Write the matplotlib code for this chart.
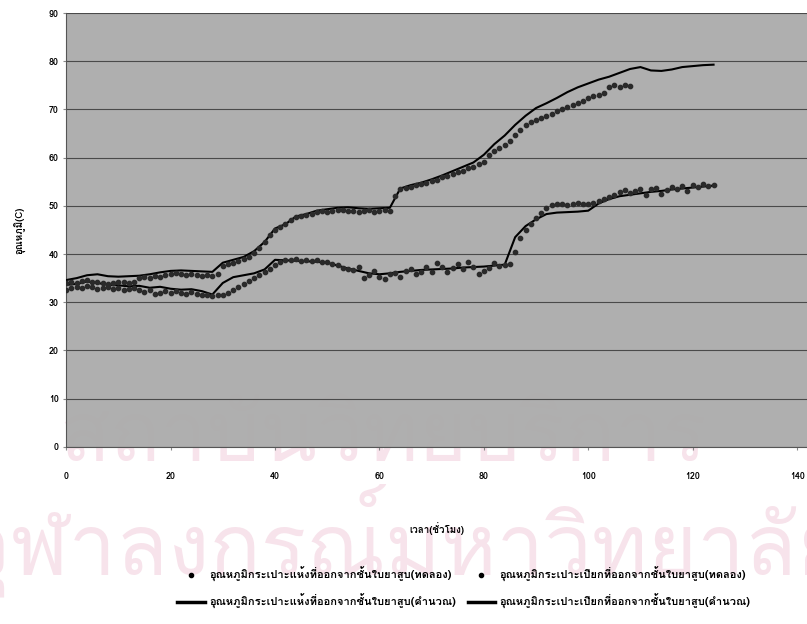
import matplotlib
matplotlib.use('Agg')
import numpy as np
import matplotlib.pyplot as plt
from matplotlib import font_manager as fm
from matplotlib.ft2font import FT2Font
from matplotlib.lines import Line2D

# look for any installed font that has Thai glyphs
thai_font = None
for f in fm.fontManager.ttflist:
    try:
        if FT2Font(f.fname).get_char_index(0x0E01):
            thai_font = f.name
            break
    except Exception:
        pass
families = ([thai_font] if thai_font else []) + ['DejaVu Sans']
plt.rcParams['font.family'] = families

# calculated curves (every 2 h)
t_calc = np.arange(0, 125, 2)
dry_calc = [34.6, 35.0, 35.6, 35.8, 35.4, 35.3, 35.4, 35.5, 35.8, 36.2,
            36.5, 36.6, 36.5, 36.4, 36.3, 38.2, 38.8, 39.4, 40.6, 42.5,
            45.3, 46.2, 47.8, 48.3, 49.0, 49.3, 49.6, 49.7, 49.5, 49.4,
            49.5, 49.6, 53.6, 54.3, 54.8, 55.5, 56.3, 57.2, 58.1, 59.0,
            60.6, 62.8, 64.6, 66.8, 68.7, 70.3, 71.3, 72.4, 73.6, 74.6,
            75.4, 76.2, 76.8, 77.6, 78.4, 78.8, 78.1, 78.0, 78.3, 78.8,
            79.0, 79.2, 79.3]
wet_calc = [33.6, 33.8, 34.3, 34.0, 33.6, 33.5, 33.3, 33.4, 33.0, 33.2,
            32.8, 32.6, 32.7, 32.3, 31.6, 34.0, 35.2, 35.6, 36.0, 36.8,
            38.8, 38.7, 38.6, 38.5, 38.4, 38.2, 37.6, 37.0, 36.5, 36.0,
            35.8, 36.0, 36.3, 36.5, 36.7, 36.8, 36.9, 37.0, 37.2, 37.3,
            37.4, 37.6, 37.8, 43.5, 45.8, 47.2, 48.3, 48.6, 48.7, 48.8,
            49.0, 50.5, 51.4, 52.0, 52.3, 52.6, 52.9, 53.1, 53.4, 53.6,
            53.8, 54.0, 54.2]

# measured points (every 1 h)
t_dry = np.arange(0, 109)
dry_exp = [33.9, 34.2, 34.0, 34.4, 34.6, 34.3, 34.1, 34.0, 33.8, 34.0,
           34.2, 34.1, 33.9, 34.3, 35.0, 35.3, 35.1, 35.4, 35.2, 35.6,
           35.9, 36.0, 35.8, 35.6, 35.9, 35.7, 35.5, 35.6, 35.4, 35.8,
           37.6, 37.9, 38.2, 38.6, 39.0, 39.4, 40.2, 41.3, 42.6, 44.0,
           45.0, 45.6, 46.3, 47.0, 47.6, 47.9, 48.0, 48.4, 48.7, 48.9,
           48.8, 49.0, 49.2, 49.1, 48.9, 49.0, 48.8, 48.9, 49.1, 48.7,
           48.9, 49.2, 49.0, 52.0, 53.4, 53.8, 54.0, 54.3, 54.6, 54.8,
           55.2, 55.4, 55.9, 56.2, 56.6, 57.0, 57.3, 57.8, 58.1, 58.6,
           59.2, 60.5, 61.3, 62.0, 62.6, 63.4, 64.6, 65.8, 66.7, 67.4,
           67.9, 68.3, 68.7, 69.1, 69.6, 70.1, 70.6, 71.0, 71.4, 71.8,
           72.3, 72.7, 73.1, 73.5, 74.6, 75.0, 74.7, 75.1, 74.8]
t_wet = np.arange(0, 125)
wet_exp = [32.6, 32.9, 33.2, 33.0, 33.4, 33.1, 32.8, 32.9, 33.2, 32.7,
           32.9, 32.6, 32.8, 33.0, 32.5, 32.2, 32.6, 31.8, 32.0, 32.4,
           31.9, 32.3, 32.0, 31.7, 32.1, 31.8, 31.6, 31.5, 31.3, 31.5,
           31.6, 32.0, 32.6, 33.2, 33.8, 34.4, 35.0, 35.6, 36.2, 36.9,
           37.8, 38.4, 38.8, 38.7, 38.9, 38.6, 38.8, 38.5, 38.7, 38.4,
           38.3, 38.0, 37.8, 37.2, 36.9, 36.6, 37.4, 35.0, 35.6, 36.4,
           35.3, 34.8, 35.9, 36.0, 35.2, 36.4, 36.8, 35.9, 36.3, 37.4,
           36.2, 38.2, 37.3, 36.3, 37.1, 37.9, 36.8, 38.3, 37.4, 35.8,
           36.5, 37.0, 38.1, 37.5, 37.8, 38.0, 40.4, 43.4, 45.0, 46.3,
           47.4, 48.6, 49.6, 50.1, 50.3, 50.4, 50.2, 50.3, 50.5, 50.3,
           50.4, 50.6, 51.0, 51.4, 51.8, 52.2, 52.9, 53.3, 52.6, 53.0,
           53.4, 52.2, 53.5, 53.8, 52.4, 53.3, 53.9, 53.6, 54.1, 53.0,
           54.3, 54.0, 54.5, 54.2, 54.4]

labels = ['อุณหภูมิกระเปาะแห้งที่ออกจากชั้นใบยาสูบ(ทดลอง)',
          'อุณหภูมิกระเปาะเปียกที่ออกจากชั้นใบยาสูบ(ทดลอง)',
          'อุณหภูมิกระเปาะแห้งที่ออกจากชั้นใบยาสูบ(คำนวณ)',
          'อุณหภูมิกระเปาะเปียกที่ออกจากชั้นใบยาสูบ(คำนวณ)']
xlabel = 'เวลา(ชั่วโมง)'
ylabel = 'อุณหภูมิ(C)'

fig = plt.figure(figsize=(8.07, 6.24), dpi=100)

# faint watermark, drawn before the axes so labels stay on top
wm = '#f7e3eb'
fig.text(0.475, 0.295, 'สถาบันวิทยบริการ', fontsize=60, color=wm,
         ha='center', va='center', zorder=-5)
fig.text(0.5, 0.135, 'จุฬาลงกรณ์มหาวิทยาลัย', fontsize=61, color=wm,
         ha='center', va='center', zorder=-5)

ax = fig.add_axes([0.082, 0.284, 0.918, 0.695])
ax.set_facecolor('#acacac')
ax.patch.set_alpha(0.96)
ax.set_xlim(0, 141.9)
ax.set_ylim(0, 90)
ax.set_xticks(range(0, 141, 20))
ax.set_yticks(range(0, 91, 10))
ax.grid(axis='y', color='#4a4a4a', lw=0.8)
ax.set_axisbelow(True)
for s in ['top', 'right']:
    ax.spines[s].set_visible(False)
ax.spines['left'].set_color('#555555')
ax.spines['bottom'].set_color('#555555')
ax.tick_params(labelsize=6.5, length=2, color='#888888')
ax.tick_params(axis='x', pad=16)
for lb in ax.get_xticklabels() + ax.get_yticklabels():
    lb.set_fontweight('bold')

ax.plot(t_calc, dry_calc, color='black', lw=1.5, zorder=3)
ax.plot(t_calc, wet_calc, color='black', lw=1.5, zorder=3)
ax.plot(t_dry, dry_exp, 'o', color='#2a2a2a', ms=3.1, zorder=4)
ax.plot(t_wet, wet_exp, 'o', color='#2a2a2a', ms=3.1, zorder=4)

ax.set_ylabel(ylabel, fontsize=7, fontweight='bold', labelpad=16)
ax.set_xlabel(xlabel, fontsize=7, fontweight='bold', labelpad=30)

handles = [Line2D([], [], ls='none', marker='o', color='black', ms=3),
           Line2D([], [], color='black', lw=2.5),
           Line2D([], [], ls='none', marker='o', color='black', ms=3),
           Line2D([], [], color='black', lw=2.5)]
order = [labels[0], labels[2], labels[1], labels[3]]
fig.legend(handles, order, ncol=2, loc='center', bbox_to_anchor=(0.575, 0.058),
           frameon=False, handlelength=2.5, columnspacing=1.0,
           labelspacing=1.1, handletextpad=0.4,
           prop={'weight': 'bold', 'size': 8})

fig.savefig('out.png', dpi=100)
